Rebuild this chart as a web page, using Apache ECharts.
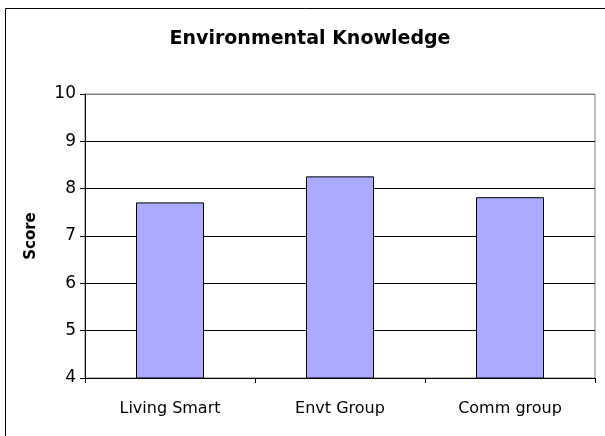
<!DOCTYPE html>
<html>
<head>
<meta charset="utf-8">
<script src="https://cdn.jsdelivr.net/npm/echarts@6/dist/echarts.min.js"></script>
<style>
  html, body { margin: 0; padding: 0; background: #fff; }
  #main { width: 605px; height: 436px; }
</style>
</head>
<body>
<div id="main"></div>
<script>
var categories = ['Living Smart', 'Envt Group', 'Comm group'];
var scores = [7.71, 8.26, 7.82];
var yTicks = { min: 4, max: 10, step: 1 };

var chart = echarts.init(document.getElementById('main'));
var font = 'DejaVu Sans, Verdana, sans-serif';

// gridlines black, the top one is the grey plot border
var gridColors = [];
for (var v = yTicks.min; v <= yTicks.max; v += yTicks.step) {
    gridColors.push(v == yTicks.max ? '#808080' : '#000');
}

var option = {
    animation: false,
    title: {
        text: 'Environmental Knowledge',
        left: 305,
        textAlign: 'center',
        top: 25,
        textStyle: { fontFamily: font, fontSize: 19, fontWeight: 'bold', color: '#000' }
    },
    graphic: [
        {
            type: 'rect',
            shape: { x: 5.5, y: 8.5, width: 700, height: 500 },
            style: { fill: 'none', stroke: '#000', lineWidth: 1 },
            silent: true
        }
    ],
    grid: {
        left: 85, right: 10, top: 94, bottom: 58,
        show: true, borderColor: '#808080', borderWidth: 1, backgroundColor: '#fff'
    },
    xAxis: {
        type: 'category',
        data: categories,
        axisLine: { lineStyle: { color: '#000' } },
        axisTick: { show: true, length: 5, lineStyle: { color: '#000' } },
        axisLabel: { fontFamily: font, fontSize: 16, color: '#000', margin: 23 }
    },
    yAxis: {
        type: 'value',
        min: yTicks.min,
        max: yTicks.max,
        interval: yTicks.step,
        name: 'Score',
        nameLocation: 'middle',
        nameGap: 46,
        nameTextStyle: { fontFamily: font, fontSize: 15, fontWeight: 'bold', color: '#000' },
        axisLine: { show: true, lineStyle: { color: '#000' } },
        axisTick: { show: true, length: 5, lineStyle: { color: '#000' } },
        axisLabel: { fontFamily: font, fontSize: 17, color: '#000', margin: 9 },
        splitLine: { lineStyle: { color: gridColors, width: 1 } }
    },
    series: [
        {
            type: 'bar',
            data: scores,
            barWidth: '40%',
            itemStyle: { color: '#AAAAFF', borderColor: '#000', borderWidth: 1 }
        }
    ]
};

chart.setOption(option);
</script>
</body>
</html>
